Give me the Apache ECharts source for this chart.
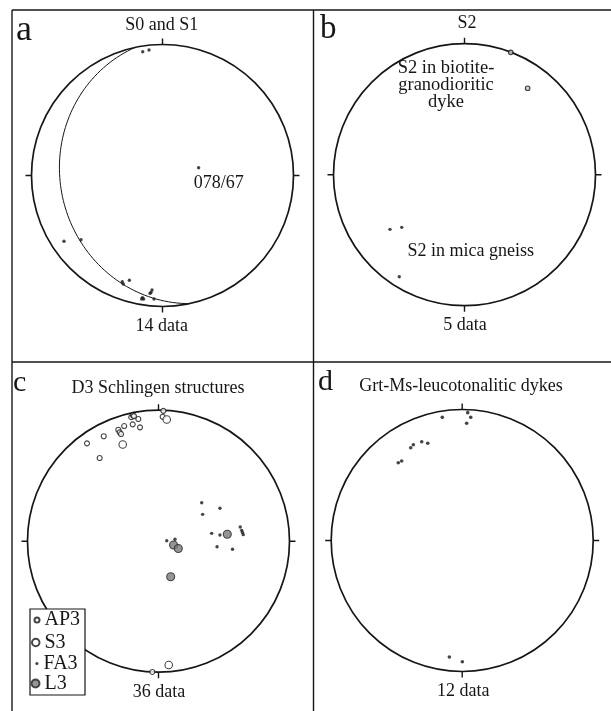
<!DOCTYPE html>
<html>
<head>
<meta charset="utf-8">
<script src="https://cdn.jsdelivr.net/npm/echarts@6/dist/echarts.min.js"></script>
<style>
  html, body { margin: 0; padding: 0; background: #fff; }
  #chart { width: 611px; height: 711px; }
</style>
</head>
<body>
<div id="chart"></div>
<script>
// Lower-hemisphere equal-area nets. Point positions are given as projected
// coordinates on a unit net: x = east, y = north (primitive circle radius 1).

// a: poles to S0 and S1
const s0s1Poles = [
  [-0.151, 0.945], [-0.103, 0.958], [-0.752, -0.502], [-0.622, -0.490],
  [-0.307, -0.811], [-0.299, -0.828], [-0.253, -0.800], [-0.088, -0.892],
  [-0.080, -0.874], [-0.159, -0.943], [-0.144, -0.943], [-0.065, -0.943],
  [-0.153, -0.932], [-0.095, -0.900]
];
// a: pi-pole (trend / plunge, degrees) of the best-fit girdle
const piPole = { trend: 78, plunge: 67 };

// b: poles to S2
const s2Dyke = [[0.353, 0.934], [0.482, 0.660]];
const s2Gneiss = [[-0.569, -0.417], [-0.479, -0.402], [-0.498, -0.779]];

// c: D3 Schlingen structures
const ap3 = [
  [-0.546, 0.747], [-0.418, 0.801], [-0.449, 0.635], [-0.307, 0.851],
  [-0.296, 0.831], [-0.262, 0.879], [-0.208, 0.947], [-0.195, 0.960],
  [-0.197, 0.892], [-0.154, 0.933], [-0.141, 0.869], [0.037, 0.995],
  [0.032, 0.950], [-0.047, -0.998], [-0.286, 0.818], [-0.187, 0.955]
];
const s3 = [[-0.273, 0.738], [0.063, 0.929], [0.078, -0.945]];
const fa3 = [
  [0.330, 0.294], [0.337, 0.205], [0.469, 0.251], [0.406, 0.060],
  [0.469, 0.047], [0.624, 0.108], [0.635, 0.083], [0.647, 0.050],
  [0.447, -0.042], [0.565, -0.062], [0.063, 0.004], [0.126, 0.015],
  [0.641, 0.066]
];
const l3 = [[0.525, 0.053], [0.115, -0.029], [0.151, -0.056], [0.093, -0.271]];

// d: poles to Grt-Ms-leucotonalitic dykes
const dykePoles = [
  [-0.152, 0.940], [0.042, 0.976], [0.065, 0.940], [0.034, 0.895],
  [-0.309, 0.754], [-0.263, 0.742], [-0.393, 0.708], [-0.373, 0.731],
  [-0.488, 0.594], [-0.462, 0.607], [-0.098, -0.889], [0.001, -0.925]
];

// Titles and legend names
const panelLetters = ['a', 'b', 'c', 'd'];
const panelTitles = ['S0 and S1', 'S2', 'D3 Schlingen structures', 'Grt-Ms-leucotonalitic dykes'];
const legendNames = ['AP3', 'S3', 'FA3', 'L3'];

// ---- layout ----
const R = 131;
const nets = [
  { cx: 162.5, cy: 175.5 },
  { cx: 464.5, cy: 174.7 },
  { cx: 158.5, cy: 541.2 },
  { cx: 462.2, cy: 540.5 }
];
const FONT = '"Liberation Serif", "Times New Roman", serif';
const INK = '#161616';
const rad = Math.PI / 180;

// Equal-area (Schmidt) lower-hemisphere projection of a unit vector (east, north, down)
function project(e, n, d) {
  const k = 1 / Math.sqrt(1 + d);
  return [e * k, n * k];
}
function lineToNet(trend, plunge) {
  const t = trend * rad, p = plunge * rad;
  return project(Math.cos(p) * Math.sin(t), Math.cos(p) * Math.cos(t), Math.sin(p));
}
// Great circle of the plane whose pole is (trend, plunge)
function greatCircle(trend, plunge) {
  const dipDir = (trend + 180) % 360, dip = 90 - plunge;
  const s = (dipDir - 90) * rad, dd = dipDir * rad, dp = dip * rad;
  const sv = [Math.sin(s), Math.cos(s), 0];
  const dv = [Math.sin(dd) * Math.cos(dp), Math.cos(dd) * Math.cos(dp), Math.sin(dp)];
  const pts = [];
  for (let a = 0; a <= 180; a += 2) {
    const c = Math.cos(a * rad), si = Math.sin(a * rad);
    pts.push(project(c * sv[0] + si * dv[0], c * sv[1] + si * dv[1], Math.max(0, c * sv[2] + si * dv[2])));
  }
  return pts;
}
const pad3 = v => String(v).padStart(3, '0');

const polar = nets.map(n => ({ center: [n.cx, n.cy], radius: R }));
const angleAxis = nets.map((n, i) => ({
  polarIndex: i, type: 'value', min: 0, max: 360, interval: 90,
  startAngle: 90, clockwise: true,
  axisLine: { lineStyle: { color: INK, width: 1.7 } },
  axisTick: { show: true, inside: false, length: 6, lineStyle: { color: INK, width: 1.4 } },
  axisLabel: { show: false }, splitLine: { show: false }
}));
const radiusAxis = nets.map((n, i) => ({ polarIndex: i, show: false, min: 0, max: 1 }));
const grid = nets.map(n => ({ left: n.cx - R, top: n.cy - R, width: 2 * R, height: 2 * R }));
const xAxis = nets.map((n, i) => ({ gridIndex: i, type: 'value', min: -1, max: 1, show: false }));
const yAxis = nets.map((n, i) => ({ gridIndex: i, type: 'value', min: -1, max: 1, show: false }));

function dots(name, idx, data, size, style, extra) {
  return Object.assign({
    type: 'scatter', name, xAxisIndex: idx, yAxisIndex: idx, data,
    symbol: 'circle', symbolSize: size, itemStyle: style, clip: false,
    emphasis: { disabled: true }, silent: true, z: 5
  }, extra || {});
}
const blackDot = { color: INK };
const ring = { color: '#fff', borderColor: INK, borderWidth: 1.1 };
const grayDot = { color: '#7a7a7a', borderColor: '#222', borderWidth: 1.1 };

const series = [
  {
    type: 'line', name: 'pi-girdle', xAxisIndex: 0, yAxisIndex: 0,
    data: greatCircle(piPole.trend, piPole.plunge), showSymbol: false, smooth: false,
    lineStyle: { color: INK, width: 1 }, silent: true, z: 3
  },
  dots('S0/S1', 0, s0s1Poles, 3.4, blackDot),
  dots('pi-pole', 0, [lineToNet(piPole.trend, piPole.plunge)], 3.4, blackDot, {
    label: {
      show: true, position: 'inside', offset: [20, 15.5],
      formatter: () => pad3(piPole.trend) + '/' + piPole.plunge,
      fontFamily: FONT, fontSize: 18, color: INK, textBorderWidth: 0, opacity: 1
    }
  }),
  dots('S2 dyke', 1, s2Dyke, 4.5, { color: '#cfcfcf', borderColor: INK, borderWidth: 1.2 }),
  dots('S2 gneiss', 1, s2Gneiss, 3.4, blackDot),
  dots('AP3', 2, ap3, 5, ring),
  dots('S3', 2, s3, 7.5, ring),
  dots('FA3', 2, fa3, 3.4, blackDot),
  dots('L3', 2, l3, 8, grayDot),
  dots('dykes', 3, dykePoles, 3.6, blackDot)
];

// Legend of panel c: one component per entry so each icon keeps its own size
const legendRows = [
  { name: legendNames[0], size: 5, cy: 620 },
  { name: legendNames[1], size: 7.5, cy: 642.5 },
  { name: legendNames[2], size: 3.2, cy: 663.5 },
  { name: legendNames[3], size: 8, cy: 683.5 }
];
const legend = legendRows.map(r => ({
  data: [r.name], left: 38.5 - r.size, top: r.cy - 10, orient: 'vertical',
  itemWidth: r.size, itemHeight: r.size, padding: 0, selectedMode: false,
  textStyle: { fontFamily: FONT, fontSize: 20, color: INK, lineHeight: 20 },
  z: 100
}));

function txt(text, x, y, size, align, extra) {
  return Object.assign({
    type: 'text', x, y, z: 60,
    style: {
      text, fontFamily: FONT, fontSize: size, fill: INK,
      align: align || 'center', verticalAlign: 'middle',
      textAlign: align || 'center', textVerticalAlign: 'middle'
    }
  }, extra || {});
}
const counts = [
  s0s1Poles.length,
  s2Dyke.length + s2Gneiss.length,
  ap3.length + s3.length + fa3.length + l3.length,
  dykePoles.length
];
const countPos = [[161.7, 326.5], [465, 325.3], [159, 692.5], [463.3, 691]];
const titlePos = [[161.7, 25], [467, 23.3], [158, 388], [461, 386.3]];
const letterPos = [[16, 31, 36], [320, 29.5, 33], [13, 383, 30], [318, 382, 30]];

const frame = { stroke: INK, lineWidth: 1.4 };
const dykeNote = txt('S2 in biotite-\ngranodioritic\ndyke', 446, 85.5, 18.5);
dykeNote.style.lineHeight = 17;
const graphics = [
  { type: 'line', shape: { x1: 12, y1: 10, x2: 611, y2: 10 }, style: frame, z: 40 },
  { type: 'line', shape: { x1: 12, y1: 10, x2: 12, y2: 711 }, style: frame, z: 40 },
  { type: 'line', shape: { x1: 313.5, y1: 10, x2: 313.5, y2: 711 }, style: frame, z: 40 },
  { type: 'line', shape: { x1: 12, y1: 362, x2: 611, y2: 362 }, style: frame, z: 40 },
  { type: 'rect', shape: { x: 30, y: 609, width: 55, height: 86 }, style: { fill: '#fff', stroke: INK, lineWidth: 1.2 }, z: 50 },
  dykeNote,
  txt('S2 in mica gneiss', 470.8, 251, 18)
];
panelTitles.forEach((t, i) => graphics.push(txt(t, titlePos[i][0], titlePos[i][1], 18)));
panelLetters.forEach((t, i) => graphics.push(txt(t, letterPos[i][0], letterPos[i][1], letterPos[i][2], 'left')));
counts.forEach((c, i) => graphics.push(txt(c + ' data', countPos[i][0], countPos[i][1], 18)));

const chart = echarts.init(document.getElementById('chart'), null, { renderer: 'canvas' });
chart.setOption({
  animation: false,
  backgroundColor: '#fff',
  polar, angleAxis, radiusAxis, grid, xAxis, yAxis, series, legend,
  graphic: { elements: graphics }
});
</script>
</body>
</html>
